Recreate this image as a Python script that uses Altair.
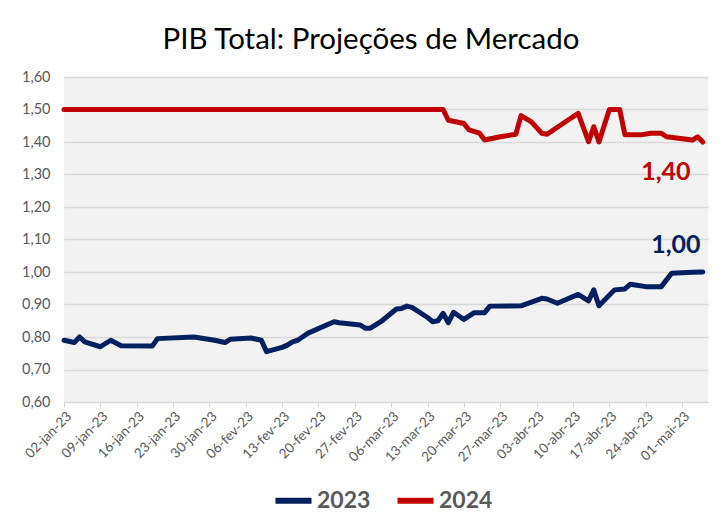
import altair as alt
import pandas as pd

# ---- data ----
dates_2023 = [
    "2023-01-02", "2023-01-04", "2023-01-05", "2023-01-06", "2023-01-09", "2023-01-11",
    "2023-01-13", "2023-01-19", "2023-01-20", "2023-01-27", "2023-01-31", "2023-02-02",
    "2023-02-03", "2023-02-07", "2023-02-09", "2023-02-10", "2023-02-13", "2023-02-14",
    "2023-02-15", "2023-02-16", "2023-02-18", "2023-02-23", "2023-02-24", "2023-02-28",
    "2023-03-01", "2023-03-02", "2023-03-04", "2023-03-07", "2023-03-08", "2023-03-09",
    "2023-03-10", "2023-03-13", "2023-03-14", "2023-03-15", "2023-03-16", "2023-03-17",
    "2023-03-18", "2023-03-20", "2023-03-22", "2023-03-24", "2023-03-25", "2023-03-31",
    "2023-04-04", "2023-04-05", "2023-04-07", "2023-04-11", "2023-04-13", "2023-04-14",
    "2023-04-15", "2023-04-18", "2023-04-20", "2023-04-21", "2023-04-22", "2023-04-24",
    "2023-04-27", "2023-04-29", "2023-05-03", "2023-05-05",
]
vals_2023 = [
    0.790, 0.783, 0.800, 0.785, 0.770, 0.790,
    0.773, 0.772, 0.795, 0.800, 0.790, 0.783,
    0.793, 0.797, 0.790, 0.755, 0.768, 0.775,
    0.785, 0.790, 0.812, 0.847, 0.844, 0.837,
    0.827, 0.827, 0.847, 0.886, 0.888, 0.895,
    0.891, 0.860, 0.847, 0.850, 0.873, 0.844,
    0.876, 0.854, 0.875, 0.875, 0.895, 0.896,
    0.919, 0.917, 0.904, 0.931, 0.911, 0.945,
    0.896, 0.945, 0.948, 0.962, 0.960, 0.955,
    0.955, 0.996, 0.999, 1.000,
]

dates_2024 = [
    "2023-01-02", "2023-03-16", "2023-03-17", "2023-03-20", "2023-03-21", "2023-03-23",
    "2023-03-24", "2023-03-27", "2023-03-30", "2023-03-31", "2023-04-02", "2023-04-04",
    "2023-04-05", "2023-04-09", "2023-04-11", "2023-04-13", "2023-04-14", "2023-04-15",
    "2023-04-17", "2023-04-19", "2023-04-20", "2023-04-23", "2023-04-25", "2023-04-27",
    "2023-04-28", "2023-05-03", "2023-05-04", "2023-05-05",
]
vals_2024 = [
    1.500, 1.500, 1.467, 1.457, 1.437, 1.427,
    1.406, 1.416, 1.424, 1.481, 1.462, 1.427,
    1.424, 1.467, 1.488, 1.401, 1.447, 1.400,
    1.500, 1.500, 1.422, 1.422, 1.427, 1.427,
    1.416, 1.406, 1.416, 1.400,
]

series_names = ["2023", "2024"]
series_colors = ["#002060", "#C00000"]

tick_dates = [
    (1, 2), (1, 9), (1, 16), (1, 23), (1, 30), (2, 6), (2, 13), (2, 20), (2, 27),
    (3, 6), (3, 13), (3, 20), (3, 27), (4, 3), (4, 10), (4, 17), (4, 24), (5, 1),
]
y_ticks = [0.6, 0.7, 0.8, 0.9, 1.0, 1.1, 1.2, 1.3, 1.4, 1.5, 1.6]

# ---- tables ----
df = pd.concat([
    pd.DataFrame({"date": dates_2023, "value": vals_2023, "serie": "2023"}),
    pd.DataFrame({"date": dates_2024, "value": vals_2024, "serie": "2024"}),
], ignore_index=True)

last = pd.DataFrame({
    "date": [dates_2023[-1], dates_2024[-1]],
    "value": [vals_2023[-1], vals_2024[-1]],
    "serie": ["2023", "2024"],
})
last["label"] = last["value"].map(lambda v: f"{v:.2f}".replace(".", ","))

FONT = "Lato"

color_scale = alt.Scale(domain=series_names, range=series_colors)
x_scale = alt.Scale(
    type="utc",
    domain=[alt.DateTime(year=2023, month=1, date=2, utc=True),
            alt.DateTime(year=2023, month=5, date=6, utc=True)],
    nice=False,
)
y_scale = alt.Scale(domain=[0.6, 1.6], nice=False, zero=False)

x_axis = alt.Axis(
    title=None,
    values=[alt.DateTime(year=2023, month=m, date=d, utc=True) for m, d in tick_dates],
    labelExpr="utcFormat(datum.value, '%d') + '-' + ['jan','fev','mar','abr','mai','jun'][utcmonth(datum.value)] + '-' + utcFormat(datum.value, '%y')",
    labelAngle=-45,
    labelAlign="right",
    labelBaseline="top",
    labelFontSize=13.5,
    labelColor="#595959",
    labelFont=FONT,
    labelPadding=2,
    grid=False,
    domainColor="#d9d9d9",
    domainWidth=1,
    tickColor="#d9d9d9",
    tickSize=5,
    labelOverlap=False,
    labelFlush=False,
)
y_axis = alt.Axis(
    title=None,
    values=y_ticks,
    labelExpr="replace(format(datum.value, '.2f'), '.', ',')",
    labelFontSize=14.5,
    labelColor="#595959",
    labelFont=FONT,
    labelPadding=14,
    labelOverlap=False,
    labelFlush=False,
    grid=True,
    gridColor="#d9d9d9",
    gridWidth=1.5,
    domain=False,
    ticks=False,
)

x_enc = alt.X("date:T", scale=x_scale, axis=x_axis)
y_enc = alt.Y("value:Q", scale=y_scale, axis=y_axis)

lines = alt.Chart(df).mark_line(strokeWidth=5, strokeCap="round", strokeJoin="round").encode(
    x=x_enc,
    y=y_enc,
    color=alt.Color(
        "serie:N",
        scale=color_scale,
        legend=alt.Legend(
            title=None,
            orient="none",
            direction="horizontal",
            legendX=208,
            legendY=402,
            symbolType="stroke",
            symbolSize=1300,
            symbolStrokeWidth=6,
            labelFont=FONT,
            labelFontSize=23,
            labelFontWeight="bold",
            labelColor="#595959",
            labelOffset=2,
            columnPadding=14,
        ),
    ),
    order="date:T",
)

lab_2024 = alt.Chart(last[last["serie"] == "2024"]).mark_text(
    font=FONT, fontSize=25, fontWeight="bold", align="center", baseline="middle", dx=-37, dy=30
).encode(
    x=x_enc,
    y=y_enc,
    text="label:N",
    color=alt.Color("serie:N", scale=color_scale, legend=None),
)
lab_2023 = alt.Chart(last[last["serie"] == "2023"]).mark_text(
    font=FONT, fontSize=25, fontWeight="bold", align="center", baseline="middle", dx=-27, dy=-27
).encode(
    x=x_enc,
    y=y_enc,
    text="label:N",
    color=alt.Color("serie:N", scale=color_scale, legend=None),
)

chart = alt.layer(lines, lab_2024, lab_2023).properties(
    width=644,
    height=325,
    autosize=alt.AutoSizeParams(type="none"),
    padding={"left": 56, "top": 69, "right": 7, "bottom": 113},
    title=alt.TitleParams(
        "PIB Total: Projeções de Mercado",
        font=FONT,
        fontSize=29.5,
        fontWeight="normal",
        color="#000000",
        anchor="middle",
        dx=-15,
        offset=14,
    ),
).configure(
    background="white",
).configure_view(
    fill="#f2f2f2",
    stroke=None,
)

chart.save("out.html", embed_options={"renderer": "svg", "actions": False})
